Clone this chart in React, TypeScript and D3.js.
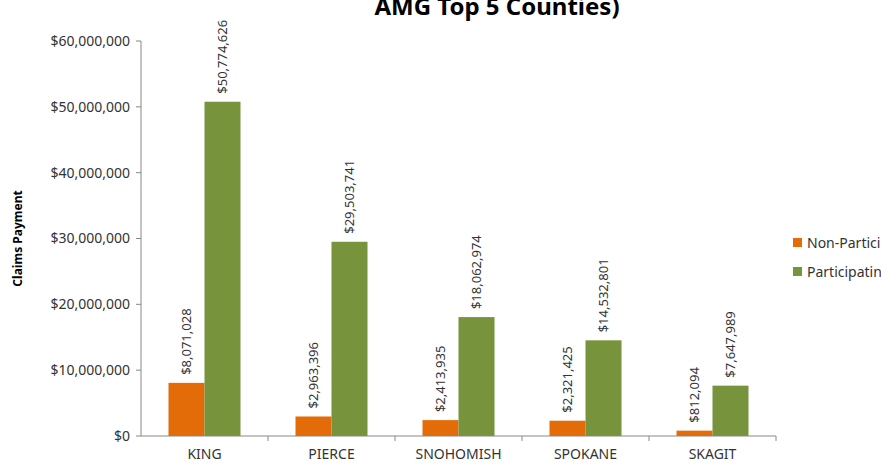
import React from "react";
import * as d3 from "d3";

const counties = ["KING", "PIERCE", "SNOHOMISH", "SPOKANE", "SKAGIT"];
const nonParticipating = [8071028, 2963396, 2413935, 2321425, 812094];
const participating = [50774626, 29503741, 18062974, 14532801, 7647989];
const seriesNames = ["Non-Participating", "Participating"];
const seriesColors = ["#E36C09", "#77933C"];
const yTicks = [0, 10000000, 20000000, 30000000, 40000000, 50000000, 60000000];
const title = "AMG Top 5 Counties)";
const yTitle = "Claims Payment";

const W = 881;
const H = 466;
const margin = { left: 141, right: 105, top: 41, bottom: 30 };
const FONT = "'Noto Sans', 'Open Sans', sans-serif";

export default function App() {
  const x0 = d3
    .scaleBand<string>()
    .domain(counties)
    .range([margin.left, W - margin.right])
    .paddingInner(0)
    .paddingOuter(0);
  const x1 = d3
    .scaleBand<number>()
    .domain([0, 1])
    .range([0, 72]);
  const y = d3
    .scaleLinear()
    .domain([0, 60000000])
    .range([H - margin.bottom, margin.top]);
  const fmt = (v: number) => "$" + d3.format(",")(v);
  const series = [nonParticipating, participating];
  const axisColor = "#888888";
  const textColor = "#333";
  const y0 = y(0);

  return (
    <svg
      width={W}
      height={H}
      style={{ position: "absolute", left: 0, top: 0, background: "#fff" }}
    >
      <text
        x={497}
        y={15}
        textAnchor="middle"
        fontFamily={FONT}
        fontWeight="bold"
        fontSize={24}
        fill="#000"
      >
        {title}
      </text>

      {/* y axis */}
      <line x1={margin.left} x2={margin.left} y1={y(60000000)} y2={y0} stroke={axisColor} />
      {yTicks.map((t) => (
        <g key={t}>
          <line x1={margin.left - 5} x2={margin.left} y1={y(t)} y2={y(t)} stroke={axisColor} />
          <text
            x={margin.left - 11}
            y={y(t)}
            dy="0.35em"
            textAnchor="end"
            fontFamily={FONT}
            fontSize={14}
            fill={textColor}
          >
            {fmt(t)}
          </text>
        </g>
      ))}
      <text
        transform={`translate(22, ${(y(60000000) + y0) / 2}) rotate(-90)`}
        textAnchor="middle"
        fontFamily={FONT}
        fontWeight="bold"
        fontSize={12}
        fill="#000"
      >
        {yTitle}
      </text>

      {/* bars */}
      {counties.map((c, i) => {
        const cx = (x0(c) as number) + x0.bandwidth() / 2 - 36;
        return (
          <g key={c}>
            {series.map((s, j) => {
              const bx = cx + (x1(j) as number);
              const by = y(s[i]);
              return (
                <g key={j}>
                  <rect
                    x={bx}
                    y={by}
                    width={x1.bandwidth()}
                    height={y0 - by}
                    fill={seriesColors[j]}
                  />
                  <text
                    transform={`translate(${bx + x1.bandwidth() / 2}, ${by - 8}) rotate(-90)`}
                    dy="0.35em"
                    textAnchor="start"
                    fontFamily={FONT}
                    fontSize={13}
                    fill={textColor}
                  >
                    {fmt(s[i])}
                  </text>
                </g>
              );
            })}
          </g>
        );
      })}

      {/* x axis */}
      <line x1={margin.left} x2={W - margin.right} y1={y0} y2={y0} stroke={axisColor} />
      {counties.map((c, i) => (
        <g key={c}>
          <line
            x1={(x0(c) as number) + x0.bandwidth()}
            x2={(x0(c) as number) + x0.bandwidth()}
            y1={y0}
            y2={y0 + 5}
            stroke={axisColor}
          />
          <text
            x={(x0(c) as number) + x0.bandwidth() / 2}
            y={y0 + 23}
            textAnchor="middle"
            fontFamily={FONT}
            fontSize={14}
            fill={textColor}
          >
            {c}
          </text>
        </g>
      ))}

      {/* legend */}
      {seriesNames.map((n, j) => (
        <g key={n} transform={`translate(793, ${238 + j * 29})`}>
          <rect width={9} height={9} fill={seriesColors[j]} />
          <text x={14} y={5} dy="0.35em" fontFamily={FONT} fontSize={14} fill={textColor}>
            {n}
          </text>
        </g>
      ))}
    </svg>
  );
}
